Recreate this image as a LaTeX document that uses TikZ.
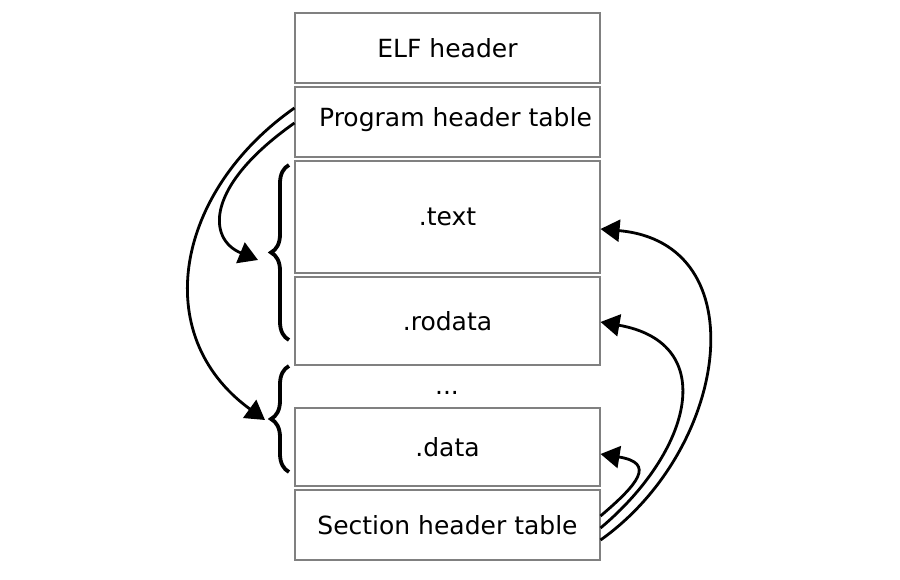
\documentclass[tikz,border=0pt]{standalone}
\usepackage{fontspec}
\setmainfont{DejaVu Sans}
\usetikzlibrary{arrows.meta,decorations.pathreplacing}
\begin{document}
\begin{tikzpicture}[x=1pt,y=1pt,
  box/.style={draw=black!50, line width=1.1pt, fill=white, minimum width=305pt, inner sep=0pt, font=\fontsize{25}{30}\selectfont},
  lbl/.style={font=\fontsize{25}{30}\selectfont, inner sep=0pt},
  conn/.style={line width=2.8pt, -{Triangle[length=19pt,width=22pt]}},
  bracestyle/.style={line width=3.8pt, decorate, decoration={brace, amplitude=18pt}}
]
\useasboundingbox (0,0) rectangle (900,580);
\node[box, minimum height=70pt] (elf) at (447.5,532) {ELF header};
\node[box, minimum height=70pt, label={[lbl, xshift=8pt, yshift=2pt]center:Program header table}] (pht) at (447.5,458) {};
\node[box, minimum height=112pt] (text) at (447.5,363) {.text};
\node[box, minimum height=88pt] (rodata) at (447.5,259) {.rodata};
\node[lbl] (dots) at (447,187) {...};
\node[box, minimum height=78pt] (data) at (447.5,133) {.data};
\node[box, minimum height=70pt] (sht) at (447.5,55) {Section header table};
% braces
\coordinate (b1b) at (289,240);
\coordinate (b1t) at (289,415);
\coordinate (b2b) at (289,108);
\coordinate (b2t) at (289,214);
\draw[bracestyle] (b1b) -- (b1t);
\draw[bracestyle] (b2b) -- (b2t);
% left arrows
\coordinate (pa) at (pht.west |- 0,472);
\coordinate (pb) at (pht.west |- 0,457);
\coordinate (ta) at (265,160);
\coordinate (tb) at (258,320);
\draw[conn] (pa) .. controls (176,389) and (148,245) .. (ta);
\draw[conn] (pb) .. controls (205,394) and (207,341) .. (tb);
% right arrows
\coordinate (s1) at (sht.east |- 0,40);
\coordinate (s2) at (sht.east |- 0,52);
\coordinate (s3) at (sht.east |- 0,64);
\coordinate (e1) at (text.east |- 0,351);
\coordinate (e2) at (rodata.east |- 0,258);
\coordinate (e3) at (data.east |- 0,126);
\draw[conn] (s1) .. controls (729,131) and (758,337) .. (e1);
\draw[conn] (s2) .. controls (692,129) and (720,237) .. (e2);
\draw[conn] (s3) .. controls (638,96) and (656,117) .. (e3);
\end{tikzpicture}
\end{document}
